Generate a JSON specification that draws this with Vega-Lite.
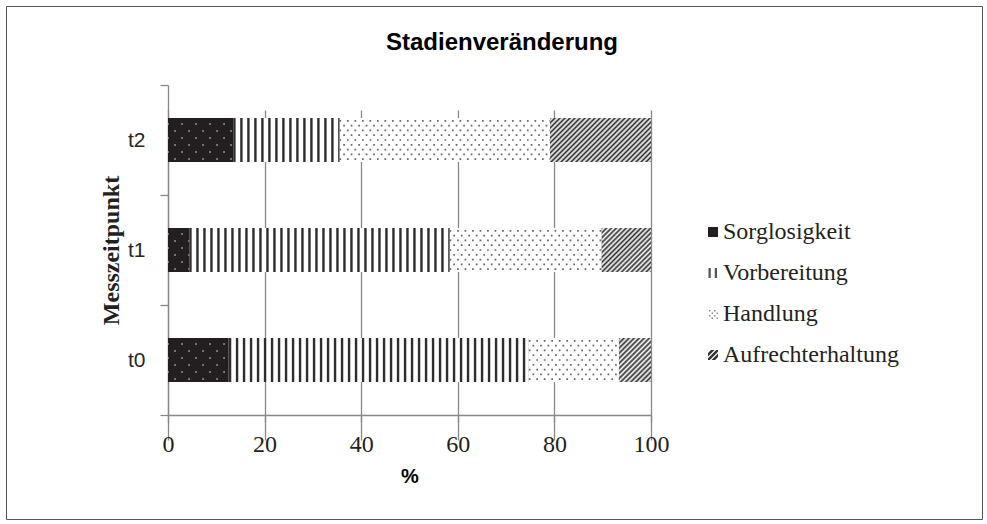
{
  "$schema": "https://vega.github.io/schema/vega-lite/v6.json",
  "width": 976,
  "height": 513,
  "autosize": {"type": "none"},
  "padding": {"left": 6, "top": 6, "right": 5, "bottom": 5},
  "background": "white",
  "title": {"text": "Stadienveränderung", "font": "Liberation Sans", "fontSize": 24, "fontWeight": "bold", "color": "#000000", "anchor": "middle", "baseline": "alphabetic", "offset": -79, "dx": 8},
  "data": {"values": [
    {"Messzeitpunkt": "t2", "Stadium": "Sorglosigkeit", "Rang": 1, "Prozent": 13.5},
    {"Messzeitpunkt": "t2", "Stadium": "Vorbereitung", "Rang": 2, "Prozent": 22.0},
    {"Messzeitpunkt": "t2", "Stadium": "Handlung", "Rang": 3, "Prozent": 43.6},
    {"Messzeitpunkt": "t2", "Stadium": "Aufrechterhaltung", "Rang": 4, "Prozent": 20.9},
    {"Messzeitpunkt": "t1", "Stadium": "Sorglosigkeit", "Rang": 1, "Prozent": 4.4},
    {"Messzeitpunkt": "t1", "Stadium": "Vorbereitung", "Rang": 2, "Prozent": 53.9},
    {"Messzeitpunkt": "t1", "Stadium": "Handlung", "Rang": 3, "Prozent": 31.5},
    {"Messzeitpunkt": "t1", "Stadium": "Aufrechterhaltung", "Rang": 4, "Prozent": 10.2},
    {"Messzeitpunkt": "t0", "Stadium": "Sorglosigkeit", "Rang": 1, "Prozent": 12.6},
    {"Messzeitpunkt": "t0", "Stadium": "Vorbereitung", "Rang": 2, "Prozent": 62.1},
    {"Messzeitpunkt": "t0", "Stadium": "Handlung", "Rang": 3, "Prozent": 18.7},
    {"Messzeitpunkt": "t0", "Stadium": "Aufrechterhaltung", "Rang": 4, "Prozent": 6.6}
  ]},
  "transform": [
    {"stack": "Prozent", "groupby": ["Messzeitpunkt"], "sort": [{"field": "Rang", "order": "ascending"}], "as": ["von", "bis"]}
  ],
  "encoding": {
    "y": {
      "field": "Messzeitpunkt", "type": "nominal", "sort": ["t2", "t1", "t0"],
      "scale": {"range": [79, 409], "paddingInner": 0, "paddingOuter": 0},
      "axis": {
        "title": "Messzeitpunkt", "offset": -162, "tickBand": "extent", "grid": false,
        "domainColor": "#888888", "domainWidth": 1.3, "tickColor": "#888888", "tickWidth": 1.3, "tickSize": 8,
        "labelFont": "Liberation Sans", "labelFontSize": 21, "labelColor": "#262626", "labelPadding": 15,
        "titleFont": "Liberation Serif", "titleFontSize": 24, "titleFontWeight": "bold", "titleColor": "#231f20", "titlePadding": 4
      }
    },
    "x": {
      "field": "von", "type": "quantitative",
      "scale": {"domain": [0, 100], "range": [162, 645], "nice": false, "zero": false},
      "axis": {
        "title": "%", "offset": -104, "values": [0, 20, 40, 60, 80, 100], "grid": true,
        "gridColor": "#888888", "gridWidth": 1.3, "domainColor": "#888888", "domainWidth": 1.3,
        "tickColor": "#888888", "tickWidth": 1.3, "tickSize": 7,
        "labelFont": "Liberation Serif", "labelFontSize": 24, "labelColor": "#231f20", "labelPadding": 10,
        "labelFlush": false, "labelOverlap": false,
        "titleFont": "Liberation Sans", "titleFontSize": 20, "titleFontWeight": "bold", "titleColor": "#000000", "titlePadding": 10
      }
    },
    "x2": {"field": "bis"}
  },
  "layer": [
    {
      "mark": {"type": "bar", "height": {"band": 0.4}},
      "encoding": {
        "color": {
          "field": "Stadium", "type": "nominal",
          "scale": {"domain": ["Sorglosigkeit", "Vorbereitung", "Handlung", "Aufrechterhaltung"], "range": ["#231f20", "#555555", "#8a8a8a", "#333333"]},
          "legend": {
            "title": null, "orient": "none", "legendX": 695, "legendY": 214, "direction": "vertical", "padding": 0,
            "labelFont": "Liberation Serif", "labelFontSize": 24, "labelColor": "#231f20", "labelOffset": -2, "labelLimit": 400,
            "symbolType": "square", "symbolSize": 100, "symbolStrokeWidth": 0, "rowPadding": 17,
            "encode": {"symbols": {"update": {
              "shape": [
                {"test": "datum.value === 'Vorbereitung'", "value": "M-0.9,-1H-0.45V1H-0.9Z M0.35,-1H0.8V1H0.35Z"},
                {"test": "datum.value === 'Handlung'", "value": "M-0.8,-0.8h0.3v0.3h-0.3Z M0.2,-0.8h0.3v0.3h-0.3Z M-0.3,-0.3h0.3v0.3h-0.3Z M0.7,-0.3h0.3v0.3h-0.3Z M-0.8,0.2h0.3v0.3h-0.3Z M0.2,0.2h0.3v0.3h-0.3Z M-0.3,0.7h0.3v0.3h-0.3Z M0.7,0.7h0.3v0.3h-0.3Z"},
                {"test": "datum.value === 'Aufrechterhaltung'", "value": "M-1,-0.4L-0.4,-1L0.3,-1L-1,0.3Z M-1,0.65L0.65,-1L1,-1L1,-0.65L-0.65,1L-1,1Z M-0.3,1L1,-0.3L1,0.4L0.4,1Z"},
                {"value": "square"}
              ]
            }}}
          }
        }
      }
    },
    {
      "transform": [{"filter": "datum.Stadium === 'Vorbereitung' || datum.Stadium === 'Handlung'"}],
      "mark": {"type": "bar", "height": {"band": 0.4}, "fill": "#ffffff"}
    },
    {
      "transform": [{"filter": "datum.Stadium === 'Vorbereitung'"}],
      "mark": {"type": "rule", "strokeWidth": 44, "strokeDash": [2.4, 4.6], "color": "#2e2e2e", "strokeCap": "butt"}
    },
    {"transform": [{"filter": "datum.Stadium === 'Handlung'"}], "mark": {"type": "rule", "strokeWidth": 1.7, "strokeDash": [1.7, 5.8], "strokeDashOffset": 0, "color": "#666666", "strokeCap": "butt", "yOffset": -19.2}},
    {"transform": [{"filter": "datum.Stadium === 'Handlung'"}], "mark": {"type": "rule", "strokeWidth": 1.7, "strokeDash": [1.7, 5.8], "strokeDashOffset": 3.75, "color": "#666666", "strokeCap": "butt", "yOffset": -14.4}},
    {"transform": [{"filter": "datum.Stadium === 'Handlung'"}], "mark": {"type": "rule", "strokeWidth": 1.7, "strokeDash": [1.7, 5.8], "strokeDashOffset": 0, "color": "#666666", "strokeCap": "butt", "yOffset": -9.6}},
    {"transform": [{"filter": "datum.Stadium === 'Handlung'"}], "mark": {"type": "rule", "strokeWidth": 1.7, "strokeDash": [1.7, 5.8], "strokeDashOffset": 3.75, "color": "#666666", "strokeCap": "butt", "yOffset": -4.8}},
    {"transform": [{"filter": "datum.Stadium === 'Handlung'"}], "mark": {"type": "rule", "strokeWidth": 1.7, "strokeDash": [1.7, 5.8], "strokeDashOffset": 0, "color": "#666666", "strokeCap": "butt", "yOffset": 0}},
    {"transform": [{"filter": "datum.Stadium === 'Handlung'"}], "mark": {"type": "rule", "strokeWidth": 1.7, "strokeDash": [1.7, 5.8], "strokeDashOffset": 3.75, "color": "#666666", "strokeCap": "butt", "yOffset": 4.8}},
    {"transform": [{"filter": "datum.Stadium === 'Handlung'"}], "mark": {"type": "rule", "strokeWidth": 1.7, "strokeDash": [1.7, 5.8], "strokeDashOffset": 0, "color": "#666666", "strokeCap": "butt", "yOffset": 9.6}},
    {"transform": [{"filter": "datum.Stadium === 'Handlung'"}], "mark": {"type": "rule", "strokeWidth": 1.7, "strokeDash": [1.7, 5.8], "strokeDashOffset": 3.75, "color": "#666666", "strokeCap": "butt", "yOffset": 14.4}},
    {"transform": [{"filter": "datum.Stadium === 'Handlung'"}], "mark": {"type": "rule", "strokeWidth": 1.7, "strokeDash": [1.7, 5.8], "strokeDashOffset": 0, "color": "#666666", "strokeCap": "butt", "yOffset": 19.2}},
    {"transform": [{"filter": "datum.Stadium === 'Sorglosigkeit'"}], "mark": {"type": "rule", "strokeWidth": 1.5, "strokeDash": [1.5, 12.5], "strokeDashOffset": 0.7, "color": "#b5b5b5", "strokeCap": "butt", "yOffset": -16}},
    {"transform": [{"filter": "datum.Stadium === 'Sorglosigkeit'"}], "mark": {"type": "rule", "strokeWidth": 1.5, "strokeDash": [1.5, 12.5], "strokeDashOffset": 7.7, "color": "#b5b5b5", "strokeCap": "butt", "yOffset": -9}},
    {"transform": [{"filter": "datum.Stadium === 'Sorglosigkeit'"}], "mark": {"type": "rule", "strokeWidth": 1.5, "strokeDash": [1.5, 12.5], "strokeDashOffset": 0.7, "color": "#b5b5b5", "strokeCap": "butt", "yOffset": -2}},
    {"transform": [{"filter": "datum.Stadium === 'Sorglosigkeit'"}], "mark": {"type": "rule", "strokeWidth": 1.5, "strokeDash": [1.5, 12.5], "strokeDashOffset": 7.7, "color": "#b5b5b5", "strokeCap": "butt", "yOffset": 5}},
    {"transform": [{"filter": "datum.Stadium === 'Sorglosigkeit'"}], "mark": {"type": "rule", "strokeWidth": 1.5, "strokeDash": [1.5, 12.5], "strokeDashOffset": 0.7, "color": "#b5b5b5", "strokeCap": "butt", "yOffset": 12}},
    {"transform": [{"filter": "datum.Stadium === 'Sorglosigkeit'"}], "mark": {"type": "rule", "strokeWidth": 1.5, "strokeDash": [1.5, 12.5], "strokeDashOffset": 7.7, "color": "#b5b5b5", "strokeCap": "butt", "yOffset": 19}},
    {
      "transform": [{"filter": "datum.Stadium === 'Aufrechterhaltung' && datum.Messzeitpunkt === 't2'"}],
      "mark": {"type": "bar", "height": {"band": 0.4}, "fill": {"gradient": "linear", "x1": 0, "y1": 0, "x2": 1.2066, "y2": 0.5262, "stops": [
        {"offset": 0, "color": "#2e2e2e"}, {"offset": 0.0172, "color": "#ffffff"}, {"offset": 0.0345, "color": "#2e2e2e"}, {"offset": 0.0517, "color": "#ffffff"},
        {"offset": 0.0690, "color": "#2e2e2e"}, {"offset": 0.0862, "color": "#ffffff"}, {"offset": 0.1034, "color": "#2e2e2e"}, {"offset": 0.1207, "color": "#ffffff"},
        {"offset": 0.1379, "color": "#2e2e2e"}, {"offset": 0.1552, "color": "#ffffff"}, {"offset": 0.1724, "color": "#2e2e2e"}, {"offset": 0.1897, "color": "#ffffff"},
        {"offset": 0.2069, "color": "#2e2e2e"}, {"offset": 0.2241, "color": "#ffffff"}, {"offset": 0.2414, "color": "#2e2e2e"}, {"offset": 0.2586, "color": "#ffffff"},
        {"offset": 0.2759, "color": "#2e2e2e"}, {"offset": 0.2931, "color": "#ffffff"}, {"offset": 0.3103, "color": "#2e2e2e"}, {"offset": 0.3276, "color": "#ffffff"},
        {"offset": 0.3448, "color": "#2e2e2e"}, {"offset": 0.3621, "color": "#ffffff"}, {"offset": 0.3793, "color": "#2e2e2e"}, {"offset": 0.3966, "color": "#ffffff"},
        {"offset": 0.4138, "color": "#2e2e2e"}, {"offset": 0.4310, "color": "#ffffff"}, {"offset": 0.4483, "color": "#2e2e2e"}, {"offset": 0.4655, "color": "#ffffff"},
        {"offset": 0.4828, "color": "#2e2e2e"}, {"offset": 0.5, "color": "#ffffff"}, {"offset": 0.5172, "color": "#2e2e2e"}, {"offset": 0.5345, "color": "#ffffff"},
        {"offset": 0.5517, "color": "#2e2e2e"}, {"offset": 0.5690, "color": "#ffffff"}, {"offset": 0.5862, "color": "#2e2e2e"}, {"offset": 0.6034, "color": "#ffffff"},
        {"offset": 0.6207, "color": "#2e2e2e"}, {"offset": 0.6379, "color": "#ffffff"}, {"offset": 0.6552, "color": "#2e2e2e"}, {"offset": 0.6724, "color": "#ffffff"},
        {"offset": 0.6897, "color": "#2e2e2e"}, {"offset": 0.7069, "color": "#ffffff"}, {"offset": 0.7241, "color": "#2e2e2e"}, {"offset": 0.7414, "color": "#ffffff"},
        {"offset": 0.7586, "color": "#2e2e2e"}, {"offset": 0.7759, "color": "#ffffff"}, {"offset": 0.7931, "color": "#2e2e2e"}, {"offset": 0.8103, "color": "#ffffff"},
        {"offset": 0.8276, "color": "#2e2e2e"}, {"offset": 0.8448, "color": "#ffffff"}, {"offset": 0.8621, "color": "#2e2e2e"}, {"offset": 0.8793, "color": "#ffffff"},
        {"offset": 0.8966, "color": "#2e2e2e"}, {"offset": 0.9138, "color": "#ffffff"}, {"offset": 0.9310, "color": "#2e2e2e"}, {"offset": 0.9483, "color": "#ffffff"},
        {"offset": 0.9655, "color": "#2e2e2e"}, {"offset": 0.9828, "color": "#ffffff"}, {"offset": 1, "color": "#2e2e2e"}
      ]}}
    },
    {
      "transform": [{"filter": "datum.Stadium === 'Aufrechterhaltung' && datum.Messzeitpunkt === 't1'"}],
      "mark": {"type": "bar", "height": {"band": 0.4}, "fill": {"gradient": "linear", "x1": 0, "y1": 0, "x2": 1.0535, "y2": 0.9403, "stops": [
        {"offset": 0, "color": "#2e2e2e"}, {"offset": 0.0263, "color": "#ffffff"}, {"offset": 0.0526, "color": "#2e2e2e"}, {"offset": 0.0789, "color": "#ffffff"},
        {"offset": 0.1053, "color": "#2e2e2e"}, {"offset": 0.1316, "color": "#ffffff"}, {"offset": 0.1579, "color": "#2e2e2e"}, {"offset": 0.1842, "color": "#ffffff"},
        {"offset": 0.2105, "color": "#2e2e2e"}, {"offset": 0.2368, "color": "#ffffff"}, {"offset": 0.2632, "color": "#2e2e2e"}, {"offset": 0.2895, "color": "#ffffff"},
        {"offset": 0.3158, "color": "#2e2e2e"}, {"offset": 0.3421, "color": "#ffffff"}, {"offset": 0.3684, "color": "#2e2e2e"}, {"offset": 0.3947, "color": "#ffffff"},
        {"offset": 0.4211, "color": "#2e2e2e"}, {"offset": 0.4474, "color": "#ffffff"}, {"offset": 0.4737, "color": "#2e2e2e"}, {"offset": 0.5, "color": "#ffffff"},
        {"offset": 0.5263, "color": "#2e2e2e"}, {"offset": 0.5526, "color": "#ffffff"}, {"offset": 0.5789, "color": "#2e2e2e"}, {"offset": 0.6053, "color": "#ffffff"},
        {"offset": 0.6316, "color": "#2e2e2e"}, {"offset": 0.6579, "color": "#ffffff"}, {"offset": 0.6842, "color": "#2e2e2e"}, {"offset": 0.7105, "color": "#ffffff"},
        {"offset": 0.7368, "color": "#2e2e2e"}, {"offset": 0.7632, "color": "#ffffff"}, {"offset": 0.7895, "color": "#2e2e2e"}, {"offset": 0.8158, "color": "#ffffff"},
        {"offset": 0.8421, "color": "#2e2e2e"}, {"offset": 0.8684, "color": "#ffffff"}, {"offset": 0.8947, "color": "#2e2e2e"}, {"offset": 0.9211, "color": "#ffffff"},
        {"offset": 0.9474, "color": "#2e2e2e"}, {"offset": 0.9737, "color": "#ffffff"}, {"offset": 1, "color": "#2e2e2e"}
      ]}}
    },
    {
      "transform": [{"filter": "datum.Stadium === 'Aufrechterhaltung' && datum.Messzeitpunkt === 't0'"}],
      "mark": {"type": "bar", "height": {"band": 0.4}, "fill": {"gradient": "linear", "x1": 0, "y1": 0, "x2": 0.8198, "y2": 1.1307, "stops": [
        {"offset": 0, "color": "#2e2e2e"}, {"offset": 0.0333, "color": "#ffffff"}, {"offset": 0.0667, "color": "#2e2e2e"}, {"offset": 0.1, "color": "#ffffff"},
        {"offset": 0.1333, "color": "#2e2e2e"}, {"offset": 0.1667, "color": "#ffffff"}, {"offset": 0.2, "color": "#2e2e2e"}, {"offset": 0.2333, "color": "#ffffff"},
        {"offset": 0.2667, "color": "#2e2e2e"}, {"offset": 0.3, "color": "#ffffff"}, {"offset": 0.3333, "color": "#2e2e2e"}, {"offset": 0.3667, "color": "#ffffff"},
        {"offset": 0.4, "color": "#2e2e2e"}, {"offset": 0.4333, "color": "#ffffff"}, {"offset": 0.4667, "color": "#2e2e2e"}, {"offset": 0.5, "color": "#ffffff"},
        {"offset": 0.5333, "color": "#2e2e2e"}, {"offset": 0.5667, "color": "#ffffff"}, {"offset": 0.6, "color": "#2e2e2e"}, {"offset": 0.6333, "color": "#ffffff"},
        {"offset": 0.6667, "color": "#2e2e2e"}, {"offset": 0.7, "color": "#ffffff"}, {"offset": 0.7333, "color": "#2e2e2e"}, {"offset": 0.7667, "color": "#ffffff"},
        {"offset": 0.8, "color": "#2e2e2e"}, {"offset": 0.8333, "color": "#ffffff"}, {"offset": 0.8667, "color": "#2e2e2e"}, {"offset": 0.9, "color": "#ffffff"},
        {"offset": 0.9333, "color": "#2e2e2e"}, {"offset": 0.9667, "color": "#ffffff"}, {"offset": 1, "color": "#2e2e2e"}
      ]}}
    }
  ],
  "config": {
    "view": {"stroke": "#555555", "strokeWidth": 1}
  }
}
